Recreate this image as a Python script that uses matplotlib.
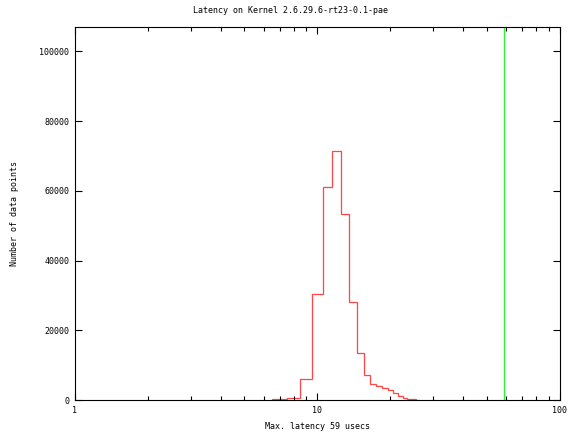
import matplotlib
matplotlib.use("Agg")
import matplotlib.pyplot as plt
import numpy as np

# latency histogram (usecs -> count)
latency = [7, 8, 9, 10, 11, 12, 13, 14, 15, 16, 17, 18, 19, 20, 21, 22, 23, 24, 25, 26]
counts = [200, 700, 6100, 30500, 61100, 71400, 53300, 28200, 13500, 7200,
          4700, 4000, 3500, 2900, 2000, 1100, 500, 250, 150, 100]
max_latency = 59

title = "Latency on Kernel 2.6.29.6-rt23-0.1-pae"
xlabel = "Max. latency %d usecs" % max_latency
ylabel = "Number of data points"
yticks = [0, 20000, 40000, 60000, 80000, 100000]

plt.rcParams['font.family'] = 'DejaVu Sans Mono'
plt.rcParams['font.size'] = 6

fig = plt.figure(figsize=(5.71, 4.33), dpi=100)
ax = fig.add_axes([0.1313, 0.0762, 0.8494, 0.8614])

# histeps: bins centred on each integer latency
edges = np.concatenate([np.array(latency) - 0.5, [latency[-1] + 0.5]])
ax.stairs(counts, edges, color='#ff4545', linewidth=0.9, baseline=0)
ax.axvline(max_latency, color='#33ee33', linewidth=1.0)

ax.set_xscale('log')
ax.set_xlim(1, 100)
ax.set_ylim(0, 107000)
ax.set_yticks(yticks)
ax.set_xticks([1, 10, 100])
ax.set_xticklabels(['1', '10', '100'])
ax.xaxis.set_minor_locator(matplotlib.ticker.LogLocator(base=10, subs=range(2, 10)))
ax.xaxis.set_minor_formatter(matplotlib.ticker.NullFormatter())

ax.tick_params(which='major', direction='in', length=5, width=0.8,
               top=True, right=True, pad=4, labelsize=6)
ax.tick_params(which='minor', direction='in', length=3, width=0.8,
               top=True, right=False)
ax.tick_params(axis='y', which='minor', left=False, right=False)
for s in ax.spines.values():
    s.set_linewidth(0.8)

# gnuplot centres the title on the whole canvas
fig.text(0.508, 0.976, title, ha='center', va='center', fontsize=6)
ax.set_xlabel(xlabel, fontsize=6, labelpad=5)
ax.set_ylabel(ylabel, fontsize=6, labelpad=15)

fig.savefig("out.png", dpi=100)
